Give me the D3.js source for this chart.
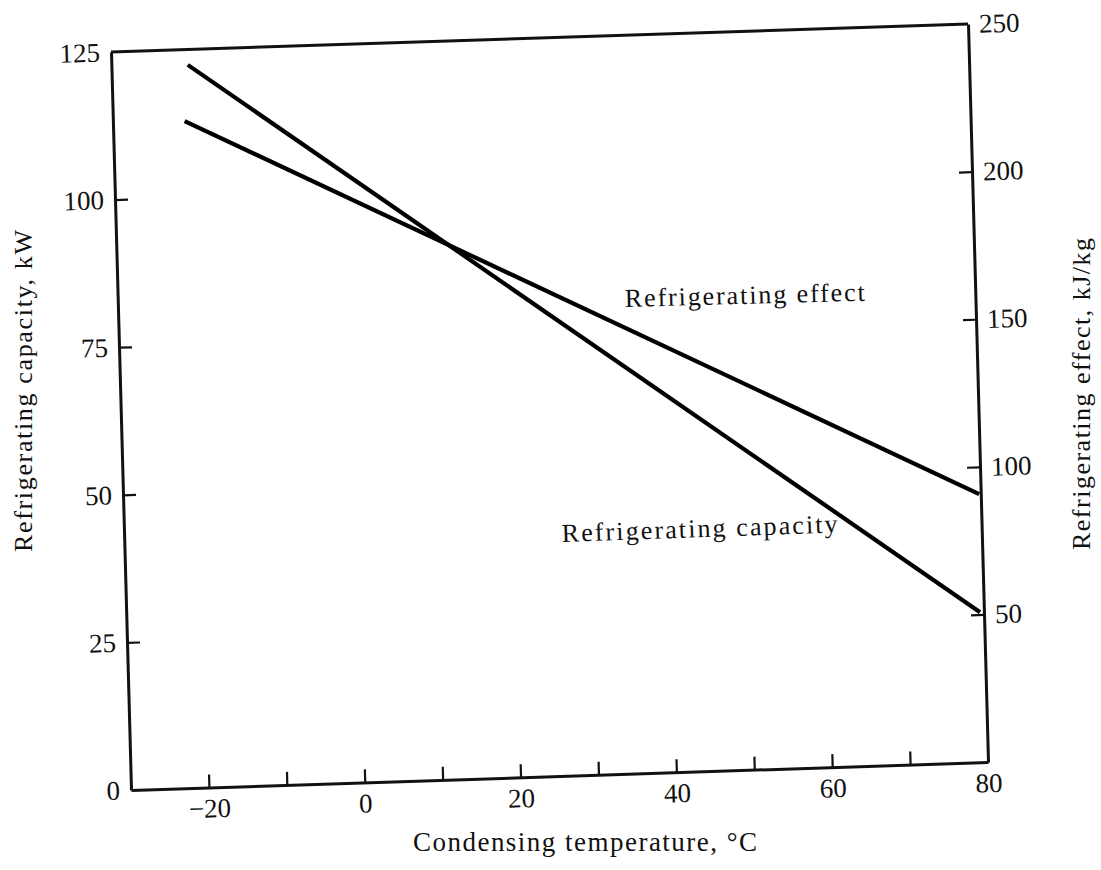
<!DOCTYPE html>
<html>
<head>
<meta charset="utf-8">
<script src="https://cdn.jsdelivr.net/npm/d3@7"></script>
<style>
  html, body { margin: 0; padding: 0; background: #fff; }
  svg { display: block; }
  text { font-family: "Liberation Serif", "DejaVu Serif", serif; fill: #111; }
</style>
</head>
<body>
<svg id="chart" width="1101" height="870"></svg>
<script>
// ---- data ----
const capacityTemps = [-20.2, 79.5];      // °C
const capacityValues = [122.4, 25.4];     // kW (left axis)
const effectTemps = [-20.8, 79.8];        // °C
const effectValues = [225.8, 90.8];       // kJ/kg (right axis)

const xTicks = [-20, -10, 0, 10, 20, 30, 40, 50, 60, 70, 80];
const xTickLabels = [-20, 0, 20, 40, 60, 80];
const leftTicks = [0, 25, 50, 75, 100, 125];
const rightTicks = [50, 100, 150, 200, 250];

const xTitle = "Condensing temperature, °C";
const leftTitle = "Refrigerating capacity, kW";
const rightTitle = "Refrigerating effect, kJ/kg";
const effectLabel = "Refrigerating effect";
const capacityLabel = "Refrigerating capacity";

// ---- layout ----
const W = 857, H = 738;
const skew = {a: 1, b: -0.03263, c: 0.0271, d: 1, e: 111, f: 52};

const svg = d3.select("#chart");
const g = svg.append("g")
  .attr("transform", `matrix(${skew.a},${skew.b},${skew.c},${skew.d},${skew.e},${skew.f})`);

const x = d3.scaleLinear().domain([-30, 80]).range([0, W]);
const yL = d3.scaleLinear().domain([0, 125]).range([H, 0]);
const yR = d3.scaleLinear().domain([0, 250]).range([H, 0]);

const fmt = d => xTickLabels.includes(d) ? d3.format("")(d) : "";

// bottom axis
const gx = g.append("g").attr("transform", `translate(0,${H})`)
  .call(d3.axisBottom(x).tickValues(xTicks).tickFormat(fmt)
        .tickSizeInner(-13).tickSizeOuter(0).tickPadding(11));
// left axis
const gl = g.append("g")
  .call(d3.axisLeft(yL).tickValues(leftTicks).tickFormat(d3.format(""))
        .tickSizeInner(-13).tickSizeOuter(0).tickPadding(11));
// right axis
const gr = g.append("g").attr("transform", `translate(${W},0)`)
  .call(d3.axisRight(yR).tickValues(rightTicks).tickFormat(d3.format(""))
        .tickSizeInner(-13).tickSizeOuter(0).tickPadding(11));
// top border
g.append("line").attr("x1", x(-30)).attr("x2", x(80)).attr("y1", 0).attr("y2", 0)
  .attr("stroke", "#111").attr("stroke-width", 3);

[gx, gl, gr].forEach(a => {
  a.select(".domain").attr("stroke", "#111").attr("stroke-width", 3);
  a.selectAll(".tick line").attr("stroke", "#111").attr("stroke-width", 2.2);
  a.selectAll(".tick text").attr("font-family", "Liberation Serif").attr("font-size", 27).attr("fill", "#111");
});
gx.selectAll(".tick").filter(d => d === 80).select("line").remove();
gl.selectAll(".tick").filter(d => d === 0 || d === 125).select("line").remove();
gr.selectAll(".tick").filter(d => d === 250).select("line").remove();

// series
const lineL = d3.line().x(d => x(d[0])).y(d => yL(d[1]));
const lineR = d3.line().x(d => x(d[0])).y(d => yR(d[1]));
g.append("path").datum(d3.zip(capacityTemps, capacityValues))
  .attr("d", lineL).attr("fill", "none").attr("stroke", "#000").attr("stroke-width", 4.2);
g.append("path").datum(d3.zip(effectTemps, effectValues))
  .attr("d", lineR).attr("fill", "none").attr("stroke", "#000").attr("stroke-width", 4.2);

// titles (upright, on the page)
svg.append("text").attr("x", 413).attr("y", 851)
  .attr("font-size", 27).attr("textLength", 344).attr("lengthAdjust", "spacing")
  .text(xTitle);
svg.append("text").attr("transform", "translate(32,391) rotate(-90)")
  .attr("text-anchor", "middle").attr("font-size", 26)
  .attr("textLength", 322).attr("lengthAdjust", "spacing").text(leftTitle);
svg.append("text").attr("transform", "translate(1090,394) rotate(-90)")
  .attr("text-anchor", "middle").attr("font-size", 26)
  .attr("textLength", 312).attr("lengthAdjust", "spacing").text(rightTitle);

// line labels
svg.append("text").attr("transform", "translate(625,307) rotate(-1.5)")
  .attr("font-size", 26).attr("textLength", 240).attr("lengthAdjust", "spacing")
  .text(effectLabel);
svg.append("text").attr("transform", "translate(562,542) rotate(-2)")
  .attr("font-size", 26).attr("textLength", 276).attr("lengthAdjust", "spacing")
  .text(capacityLabel);
</script>
</body>
</html>
